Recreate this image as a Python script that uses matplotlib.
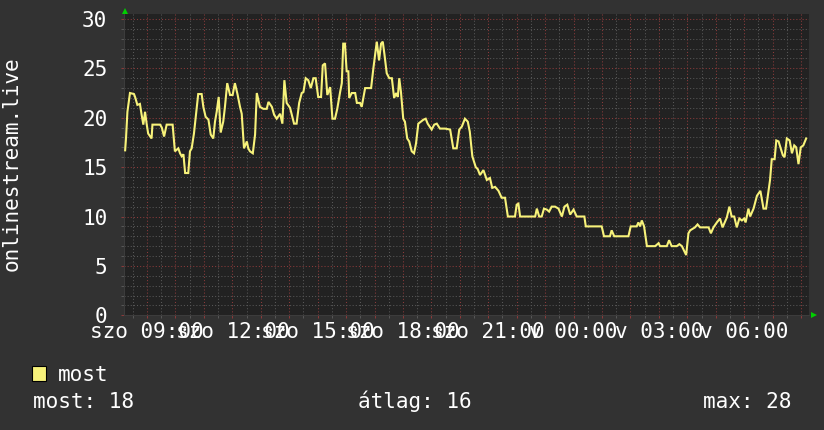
import matplotlib
matplotlib.use('Agg')
import matplotlib.pyplot as plt
from matplotlib.ticker import MultipleLocator, FuncFormatter
from matplotlib.patches import Rectangle

# time of day in hours (saturday 08:11 -> sunday 08:11), 24 = midnight
hours = [8.23, 8.26, 8.31, 8.40, 8.54, 8.58, 8.66, 8.75, 8.81, 8.87,
         8.93, 8.99, 9.04, 9.16, 9.19, 9.46, 9.52, 9.60, 9.69, 9.90,
         9.98, 10.10, 10.16, 10.22, 10.28, 10.34, 10.45, 10.51, 10.57, 10.65,
         10.72, 10.80, 10.92, 10.98, 11.06, 11.16, 11.24, 11.33, 11.39, 11.45,
         11.52, 11.59, 11.68, 11.74, 11.82, 11.92, 12.01, 12.09, 12.18, 12.27,
         12.33, 12.41, 12.51, 12.56, 12.62, 12.72, 12.80, 12.86, 12.97, 13.09,
         13.21, 13.27, 13.39, 13.47, 13.56, 13.68, 13.76, 13.83, 13.91, 14.03,
         14.17, 14.26, 14.35, 14.44, 14.50, 14.58, 14.67, 14.76, 14.85, 14.93,
         15.02, 15.12, 15.18, 15.26, 15.34, 15.44, 15.52, 15.61, 15.69, 15.79,
         15.85, 15.90, 15.96, 16.02, 16.08, 16.11, 16.20, 16.32, 16.38, 16.49,
         16.55, 16.67, 16.88, 16.96, 17.08, 17.16, 17.23, 17.29, 17.35, 17.43,
         17.52, 17.61, 17.69, 17.76, 17.82, 17.87, 17.93, 18.01, 18.07, 18.15,
         18.22, 18.31, 18.39, 18.46, 18.54, 18.72, 18.80, 18.87, 19.01, 19.10,
         19.19, 19.30, 19.48, 19.66, 19.77, 19.89, 19.98, 20.07, 20.18, 20.28,
         20.35, 20.44, 20.56, 20.63, 20.71, 20.83, 20.95, 21.06, 21.14, 21.24,
         21.36, 21.47, 21.59, 21.69, 21.94, 22.00, 22.06, 22.12, 22.65, 22.71,
         22.79, 22.88, 22.96, 23.06, 23.14, 23.23, 23.35, 23.47, 23.59, 23.68,
         23.78, 23.88, 24.00, 24.11, 24.38, 24.43,
         24.58, 24.99, 25.07, 25.28, 25.34, 25.43, 25.93, 26.01, 26.22, 26.28,
         26.34, 26.40, 26.48, 26.58, 26.87, 26.99, 27.04, 27.28, 27.36, 27.45,
         27.63, 27.72, 27.81, 27.96, 28.04, 28.10, 28.27, 28.36, 28.45, 28.75,
         28.83, 28.92, 29.04, 29.15, 29.24, 29.39, 29.48, 29.56, 29.65, 29.74,
         29.83, 29.92, 30.00, 30.05, 30.15, 30.21, 30.33, 30.45, 30.57, 30.68,
         30.77, 30.91, 30.97, 31.07, 31.13, 31.21, 31.36, 31.42, 31.50, 31.60,
         31.68, 31.76, 31.83, 31.91, 31.99, 32.08, 32.18]

viewers = [16.7, 17.9, 20.6, 22.5, 22.4, 22.1, 21.3, 21.4, 20.3, 19.3,
           20.6, 19.3, 18.4, 17.9, 19.3, 19.3, 19.0, 18.1, 19.3, 19.3,
           16.6, 16.9, 16.4, 16.1, 16.3, 14.4, 14.4, 16.6, 16.9, 18.4,
           20.3, 22.4, 22.4, 21.1, 20.1, 19.8, 18.3, 17.9, 19.6, 20.6,
           22.1, 18.5, 19.6, 21.1, 23.5, 22.3, 22.3, 23.5, 22.4, 21.1,
           20.4, 16.9, 17.6, 16.9, 16.6, 16.4, 18.3, 22.5, 21.1, 20.9,
           20.9, 21.6, 21.1, 20.3, 19.9, 20.4, 19.4, 23.8, 21.5, 21.0,
           19.4, 19.4, 21.5, 22.5, 22.6, 24.0, 23.8, 23.0, 24.0, 24.0,
           22.1, 22.1, 25.3, 25.5, 22.3, 23.1, 19.9, 19.9, 20.9, 22.6,
           23.5, 27.5, 27.5, 24.7, 24.7, 22.0, 22.5, 22.5, 21.5, 21.5,
           21.1, 23.0, 23.0, 25.0, 27.7, 25.8, 27.5, 27.7, 26.4, 24.5,
           24.0, 24.0, 22.0, 22.5, 22.1, 24.0, 22.6, 19.9, 19.6, 17.9,
           17.6, 16.6, 16.4, 17.4, 19.4, 19.8, 19.9, 19.4, 18.8, 19.3,
           19.4, 18.9, 18.9, 18.8, 16.9, 16.9, 18.8, 19.1, 19.9, 19.6,
           18.6, 16.1, 15.0, 14.8, 14.2, 14.7, 13.7, 13.9, 12.9, 13.0,
           12.6, 11.9, 11.9, 10.0, 10.0, 11.2, 11.3, 10.0, 10.0, 10.8,
           10.0, 10.0, 10.8, 10.7, 10.5, 11.0, 11.0, 10.8, 10.0, 11.0,
           11.2, 10.2, 10.7, 10.0, 10.0, 9.0,
           9.0, 9.0, 8.0, 8.0, 8.6, 8.0, 8.0, 9.0, 9.0, 9.4,
           9.0, 9.6, 9.0, 7.0, 7.0, 7.3, 7.0, 7.0, 7.6, 7.0,
           7.0, 7.2, 7.0, 6.1, 8.3, 8.6, 8.9, 9.2, 8.9, 8.9,
           8.3, 8.9, 9.4, 9.8, 8.9, 9.9, 11.0, 10.0, 10.0, 8.9,
           9.8, 9.6, 9.8, 9.4, 10.8, 10.0, 10.8, 12.1, 12.6, 10.8,
           10.8, 13.7, 15.8, 15.8, 17.7, 17.6, 16.2, 16.0, 17.9, 17.7,
           16.4, 17.2, 17.0, 15.3, 17.0, 17.2, 17.9]

tick_hours = [9, 12, 15, 18, 21, 24, 27, 30]
tick_labels = ['szo 09:00', 'szo 12:00', 'szo 15:00', 'szo 18:00',
               'szo 21:00', 'v 00:00', 'v 03:00', 'v 06:00']

y_title = 'onlinestream.live'
series_name = 'most'
stat_names = ['most', 'átlag', 'max']
stat_values = [18, 16, 28]

canvas = '#323232'
back = '#222222'
fg = '#ffffff'
line_col = '#f7f27a'
minor_col = '#575757'
major_col = '#8a3a3a'
FS = 15.1

plt.rcParams['font.family'] = ['DejaVu Sans Mono', 'DejaVu Sans']

W, H = 824, 430
fig = plt.figure(figsize=(W / 100, H / 100), dpi=100, facecolor=canvas)
left, right, top, bottom = 124, 809, 14, 315.3
ax = fig.add_axes([left / W, 1 - bottom / H, (right - left) / W, (bottom - top) / H])
ax.set_facecolor(back)

ax.plot(hours, viewers, color=line_col, lw=1.5, zorder=3, solid_joinstyle='miter')

ax.set_xlim(8.19, 32.28)
ax.set_ylim(0, 30.5)

ax.xaxis.set_major_locator(MultipleLocator(1))
ax.xaxis.set_minor_locator(MultipleLocator(0.5))
ax.yaxis.set_major_locator(MultipleLocator(5))
ax.yaxis.set_minor_locator(MultipleLocator(1))

lab = dict(zip(tick_hours, tick_labels))
ax.xaxis.set_major_formatter(FuncFormatter(lambda v, p: lab.get(int(round(v)), '') if abs(v - round(v)) < 1e-6 else ''))
ax.yaxis.set_major_formatter(FuncFormatter(lambda v, p: '%d' % v if v <= 30 else ''))

dots = (0, (1, 2))
ax.grid(which='minor', color=minor_col, linestyle=dots, linewidth=0.75, zorder=1)
ax.grid(which='major', color=major_col, linestyle=dots, linewidth=0.75, zorder=2)
ax.set_axisbelow(True)

ax.tick_params(which='both', direction='out', length=2, width=0.75, labelsize=FS, labelcolor=fg)
ax.tick_params(axis='x', which='major', color=major_col, pad=3.0)
ax.tick_params(axis='y', which='major', color=major_col, pad=10)
ax.tick_params(which='minor', color=minor_col)

for s in ['top', 'right']:
    ax.spines[s].set_visible(False)
for s in ['left', 'bottom']:
    ax.spines[s].set_color('#3c3c3c')
    ax.spines[s].set_linewidth(0.75)

# green axis arrows
ax.plot([0.0015], [1.01], marker='^', color='#00d000', markersize=4.5, mew=0,
        transform=ax.transAxes, clip_on=False)
ax.plot([1.0066], [0.0], marker='>', color='#00d000', markersize=4.5, mew=0,
        transform=ax.transAxes, clip_on=False)

fig.text(12 / W, 1 - 164 / H, y_title, rotation=90, ha='center', va='center',
         color=fg, fontsize=FS)

# legend
fig.add_artist(Rectangle((32 / W, 1 - 381 / H), 14 / W, 15 / H, transform=fig.transFigure,
                         facecolor=line_col, edgecolor='#000000', lw=0.8))
fig.text(58 / W, 1 - 381 / H, series_name, color=fg, fontsize=FS, va='baseline')

stat_x = [33, 358, 703]
for x, n, v in zip(stat_x, stat_names, stat_values):
    fig.text(x / W, 1 - 408 / H, '%s: %d' % (n, v), color=fg, fontsize=FS, va='baseline')

fig.savefig('out.png', dpi=100, facecolor=canvas)
